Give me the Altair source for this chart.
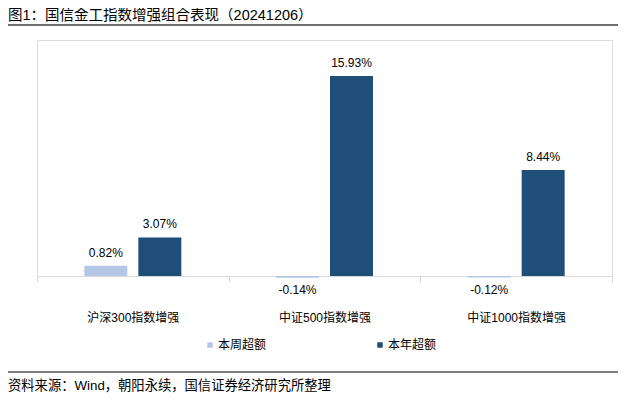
import altair as alt
import pandas as pd

categories = ["沪深300指数增强", "中证500指数增强", "中证1000指数增强"]
series_names = ["本周超额", "本年超额"]
weekly_excess = [0.82, -0.14, -0.12]
ytd_excess = [3.07, 15.93, 8.44]

title_text = "图1：国信金工指数增强组合表现（20241206）"
source_text = "资料来源：Wind，朝阳永续，国信证券经济研究所整理"

rows = []
for i, c in enumerate(categories):
    rows.append({"cat": c, "series": series_names[0], "value": weekly_excess[i]})
    rows.append({"cat": c, "series": series_names[1], "value": ytd_excess[i]})
df = pd.DataFrame(rows)
df["label"] = df["value"].map(lambda v: f"{v:.2f}%")

FONT = "Liberation Sans, Arial, Noto Sans CJK SC, sans-serif"
W, H = 575, 236
YDOM = [0, 18.8]

x_enc = alt.X("cat:N", sort=categories,
              scale=alt.Scale(paddingInner=0, paddingOuter=0),
              axis=alt.Axis(title=None, labelAngle=0, domainColor="#d9d9d9",
                            tickColor="#d9d9d9", tickSize=6, tickBand="extent",
                            labelPadding=30, labelFontSize=12, labelColor="#000000",
                            labelFont=FONT, grid=False))
xoff = alt.XOffset("series:N", sort=series_names,
                   scale=alt.Scale(paddingInner=0.204, paddingOuter=0.877))
y_enc = alt.Y("value:Q", scale=alt.Scale(domain=YDOM, nice=False, zero=False),
              axis=None)
color = alt.Color("series:N", sort=series_names,
                  scale=alt.Scale(domain=series_names, range=["#b4c7e7", "#1f4e79"]),
                  legend=alt.Legend(title=None, orient="none", legendX=167, legendY=299,
                                    direction="horizontal", symbolType="square",
                                    symbolSize=30, labelFontSize=12, labelFont=FONT,
                                    labelColor="#000000", columnPadding=107,
                                    labelOffset=2, symbolStrokeWidth=0))

base = alt.Chart(df)
bars = base.mark_bar().encode(x=x_enc, xOffset=xoff, y=y_enc, color=color)
pos_labels = base.transform_filter("datum.value >= 0").mark_text(
    baseline="bottom", dy=-6, fontSize=12, font=FONT, color="#000000"
).encode(x=x_enc, xOffset=xoff, y=y_enc, text="label:N")
neg_labels = base.transform_filter("datum.value < 0").transform_calculate(
    zero="0"
).mark_text(
    baseline="top", dy=9, fontSize=12, font=FONT, color="#000000"
).encode(x=x_enc, xOffset=xoff,
         y=alt.Y("zero:Q", scale=alt.Scale(domain=YDOM, nice=False, zero=False), axis=None),
         text="label:N")

deco = alt.Chart(pd.DataFrame({"a": [0]}))
title_mark = deco.mark_text(align="left", baseline="top", fontSize=14.5, font=FONT,
                            color="#000000").encode(
    x=alt.value(-29), y=alt.value(-31), text=alt.value(title_text))
top_rule = deco.mark_rule(color="#404040", strokeWidth=1.5).encode(
    x=alt.value(-29), x2=alt.value(585), y=alt.value(-15))
bottom_rule = deco.mark_rule(color="#000000", strokeWidth=1).encode(
    x=alt.value(-29), x2=alt.value(585), y=alt.value(332))
source_mark = deco.mark_text(align="left", baseline="middle", fontSize=13.3, font=FONT,
                             color="#000000").encode(
    x=alt.value(-29), y=alt.value(346), text=alt.value(source_text))

chart = alt.layer(bars, pos_labels, neg_labels, title_mark, top_rule, bottom_rule,
                  source_mark).properties(
    width=W, height=H,
    autosize=alt.AutoSizeParams(type="none"),
    padding={"left": 29, "top": 32, "right": 6, "bottom": 118},
).configure_view(stroke=None).configure(background="#ffffff")

chart.save("out.html", embed_options={"renderer": "svg", "actions": False})
